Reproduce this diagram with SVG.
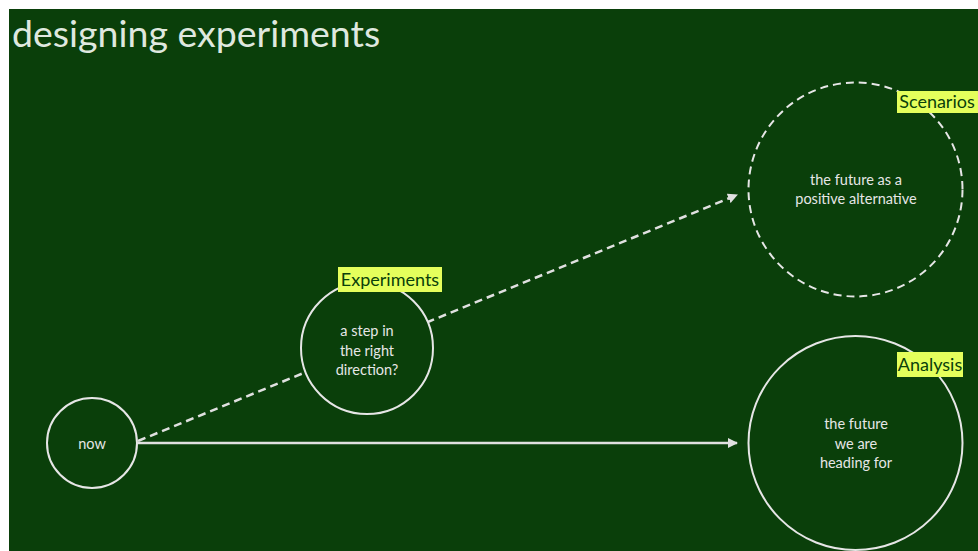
<svg xmlns="http://www.w3.org/2000/svg" width="978" height="551" viewBox="0 0 978 551">
<defs>
<style>
.bg{fill:#0a3f0a}
.node{fill:#0a3f0a;stroke:#e6e6e6;stroke-width:2}
.dashed{stroke-dasharray:8 5}
.conn{stroke:#e0e0e0;stroke-width:2.5;fill:none}
.lbl{fill:#e5ff5c}
.lt{font-family:Lato,"Open Sans","Liberation Sans",sans-serif;font-size:18px;fill:#0a3f0a;text-anchor:middle}
.t{font-family:Lato,"Open Sans","Liberation Sans",sans-serif;font-size:14.5px;fill:#e6e6e6;text-anchor:middle}
.title{font-family:Lato,"Open Sans","Liberation Sans",sans-serif;font-size:37.5px;fill:#dfe8df}
</style>
<marker id="ah" viewBox="0 0 10 10" refX="9" refY="5" markerWidth="4" markerHeight="4" orient="auto" markerUnits="strokeWidth">
<path d="M0,0 L10,5 L0,10 z" fill="#e0e0e0"/>
</marker>
</defs>
<rect x="0" y="0" width="978" height="551" fill="#ffffff"/>
<rect class="bg" x="9" y="9" width="969" height="542"/>
<text class="title" x="12" y="47">designing experiments</text>
<g id="connectors">
<line class="conn dashed" x1="138" y1="441" x2="737" y2="195" marker-end="url(#ah)"/>
<line class="conn" x1="138" y1="443" x2="737" y2="443" marker-end="url(#ah)"/>
</g>
<g id="now">
<circle class="node" cx="92" cy="443" r="45"/>
<text class="t" x="92" y="449">now</text>
</g>
<g id="experiments">
<circle class="node" cx="367" cy="348" r="66"/>
<text class="t" x="367" y="336">a step in</text>
<text class="t" x="367" y="356">the right</text>
<text class="t" x="367" y="375">direction?</text>
<rect class="lbl" x="338" y="267" width="104" height="25"/>
<text class="lt" x="390" y="286">Experiments</text>
</g>
<g id="scenarios">
<circle class="node dashed" cx="855.5" cy="189.5" r="107"/>
<text class="t" x="856" y="185">the future as a</text>
<text class="t" x="856" y="204">positive alternative</text>
<rect class="lbl" x="897" y="91" width="81" height="22"/>
<text class="lt" x="937" y="108">Scenarios</text>
</g>
<g id="analysis">
<circle class="node" cx="855.5" cy="443" r="107"/>
<text class="t" x="856" y="429">the future</text>
<text class="t" x="856" y="449">we are</text>
<text class="t" x="856" y="468">heading for</text>
<rect class="lbl" x="897" y="352" width="66" height="25"/>
<text class="lt" x="930" y="371">Analysis</text>
</g>
</svg>
